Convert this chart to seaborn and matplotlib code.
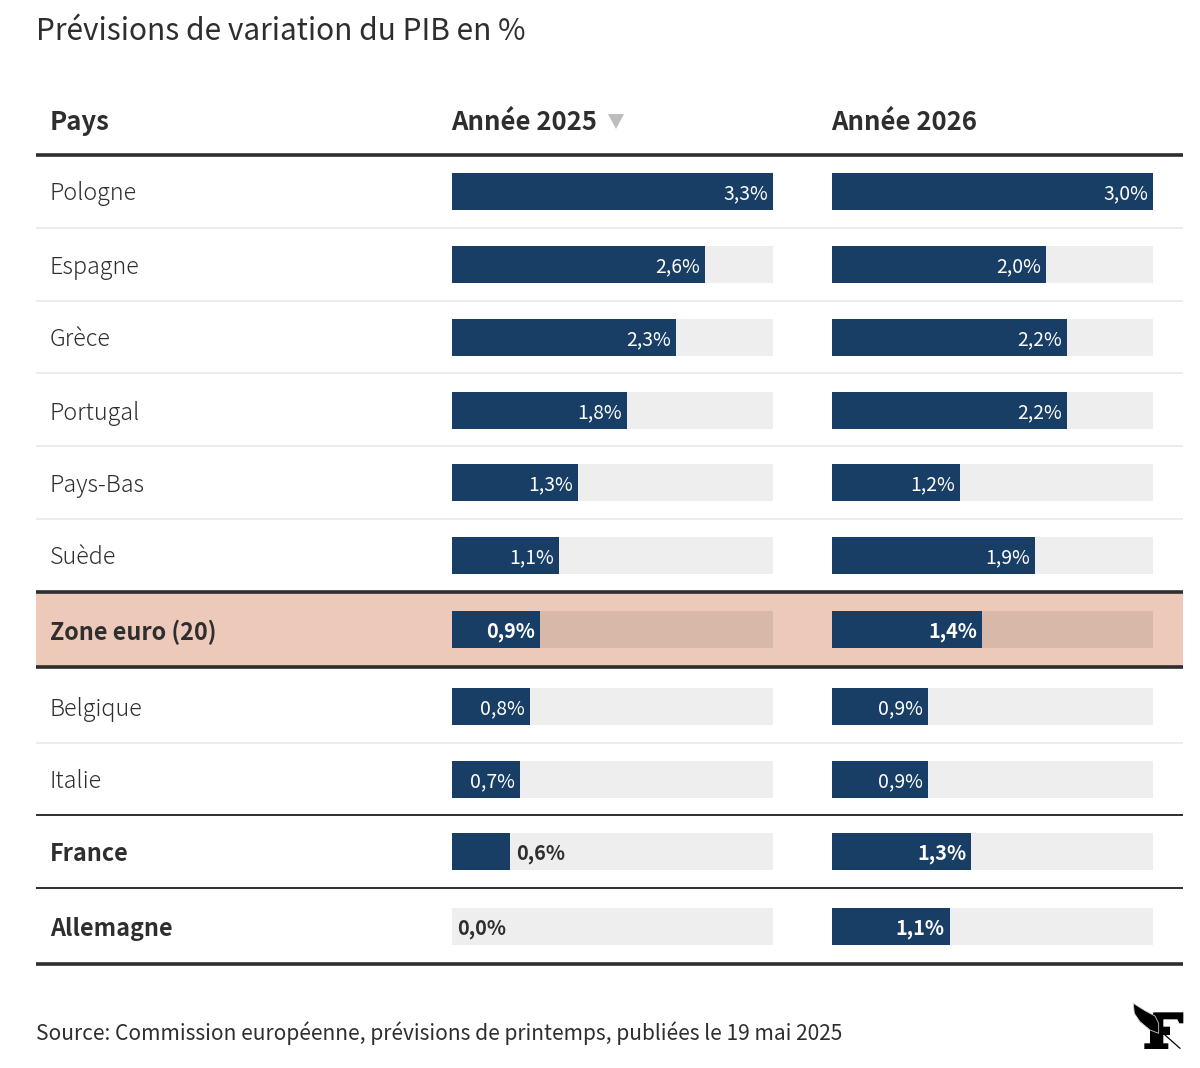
import matplotlib
matplotlib.use('Agg')
import matplotlib.pyplot as plt
from matplotlib.patches import Polygon, Rectangle
import pandas as pd
import seaborn as sns

title = 'Prévisions de variation du PIB en %'
source = 'Source: Commission européenne, prévisions de printemps, publiées le 19 mai 2025'
headers = ['Pays', 'Année 2025', 'Année 2026']
pays = ['Pologne', 'Espagne', 'Grèce', 'Portugal', 'Pays-Bas', 'Suède',
        'Zone euro (20)', 'Belgique', 'Italie', 'France', 'Allemagne']
y2025 = [3.3, 2.6, 2.3, 1.8, 1.3, 1.1, 0.9, 0.8, 0.7, 0.6, 0.0]
y2026 = [3.0, 2.0, 2.2, 2.2, 1.2, 1.9, 1.4, 0.9, 0.9, 1.3, 1.1]
bold_rows = ['Zone euro (20)', 'France', 'Allemagne']

# layout, in pixels of the 1200x1068 picture
W, H = 1200, 1068
bar_tops = [173, 246, 319, 392, 464, 537, 611, 688, 761, 833, 908]
bar_h = 37
col_left = [452, 832]
col_w = 321
light_lines = [228, 301, 373, 446, 519, 743]
thin_lines = [815, 888]
thick_lines = [155, 592, 667, 964]

navy = '#183e66'
track = '#eeeeee'
track_zone = '#d8b9a9'
zone_bg = '#ecc9b9'
ink = '#2e2e2e'

sns.set_theme(style='white')
plt.rcParams['font.family'] = ['Noto Sans CJK JP', 'DejaVu Sans']

fig = plt.figure(figsize=(W / 100, H / 100), dpi=100)
bg = fig.add_axes([0, 0, 1, 1])
bg.set_xlim(0, W)
bg.set_ylim(H, 0)
bg.axis('off')

bg.add_patch(Rectangle((36, 592), 1147, 75, color=zone_bg, lw=0))
bg.hlines(light_lines, 36, 1183, color='#ececec', lw=1.4)
bg.hlines(thin_lines, 36, 1183, color=ink, lw=1.4)
bg.hlines(thick_lines, 36, 1183, color=ink, lw=2.6)

bg.text(35.5, 32, title, fontsize=21.5, color=ink, va='center')
bg.text(35.5, 1033, source, fontsize=15.09, color=ink, va='center')
for x, h in zip([50, col_left[0] - 1, col_left[1] - 1], headers):
    bg.text(x, 123, h, fontsize=18.5, fontweight='bold', color=ink, va='center')
bg.add_patch(Polygon([(608, 114), (624, 114), (616, 129)], color='#bdbdbd', lw=0))


def logo(points):
    return [(1100 + x / 3, 980 + y / 3) for x, y in points]


bg.add_patch(Polygon(logo([(160, 97), (250, 97), (250, 130), (238, 130), (232, 118), (190, 118),
                           (190, 140), (210, 140), (210, 165), (190, 165), (190, 190), (205, 190),
                           (205, 207), (133, 207), (133, 190), (150, 190), (150, 150)]),
                     color='black', lw=0))
bg.add_patch(Polygon(logo([(100, 70), (135, 92), (165, 108), (176, 130), (176, 160), (150, 150),
                           (120, 125), (103, 100)]),
                     facecolor='black', edgecolor='#cccccc', lw=0.6))
bg.plot(*zip(*logo([(195, 165), (240, 205)])), color='black', lw=0.9)


def fmt(v):
    return f'{v:.1f}%'.replace('.', ',')


def draw_cell(left, top, value, vmax, name):
    ax = fig.add_axes([left / W, 1 - (top + bar_h) / H, col_w / W, bar_h / H])
    ax.patch.set_alpha(0)
    row = pd.DataFrame({'pays': [name], 'valeur': [value], 'max': [vmax]})
    is_bold = name in bold_rows
    weight = 'bold' if is_bold else 'normal'
    size = 14.3 if is_bold else 13.9
    sns.barplot(data=row, x='max', y='pays', color=track_zone if name.startswith('Zone') else track,
                saturation=1, width=1, linewidth=0, ax=ax)
    sns.barplot(data=row, x='valeur', y='pays', color=navy, saturation=1, width=1, linewidth=0, ax=ax)
    ax.set_xlim(0, vmax)
    ax.axis('off')
    if value / vmax * col_w < 60:
        labels = ax.bar_label(ax.containers[1], labels=[fmt(value)], padding=4, color=ink,
                              fontsize=size, fontweight=weight)
    else:
        labels = ax.bar_label(ax.containers[1], labels=[fmt(value)], padding=-3.6, color='white',
                              fontsize=size, fontweight=weight)
        labels[0].set_ha('right')
    # the CJK font sits high in its box
    labels[0].xyann = (labels[0].xyann[0], -1.5)


for i, name in enumerate(pays):
    is_bold = name in bold_rows
    bg.text(50, bar_tops[i] + bar_h / 2 + 2.5, name, fontsize=16.8,
            fontweight='bold' if is_bold else 'light', color=ink, va='center')
    draw_cell(col_left[0], bar_tops[i], y2025[i], max(y2025), name)
    draw_cell(col_left[1], bar_tops[i], y2026[i], max(y2026), name)

fig.savefig('out.png', dpi=100, facecolor='white')
